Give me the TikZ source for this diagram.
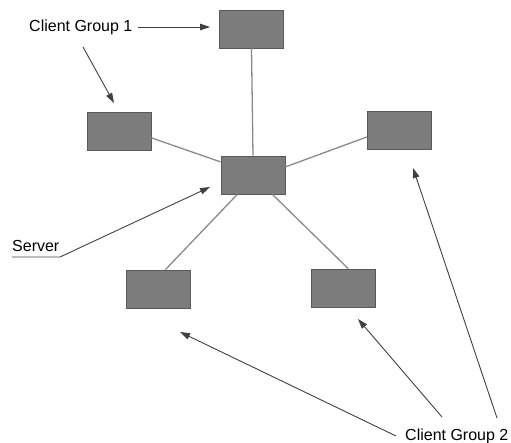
\documentclass[tikz,border=0pt]{standalone}
\usepackage{fontspec}
\setmainfont{Liberation Sans}
\usetikzlibrary{arrows.meta}
\definecolor{boxfill}{HTML}{7C7C7C}
\definecolor{boxedge}{HTML}{5A5A5A}
\definecolor{linkgray}{HTML}{8A8A8A}
\definecolor{pointer}{HTML}{404040}
\begin{document}
\begin{tikzpicture}[x=1pt,y=-1pt,
  host/.style={draw=boxedge,fill=boxfill,line width=0.8pt,minimum width=64pt,minimum height=38pt,inner sep=0pt},
  link/.style={draw=linkgray,line width=1.3pt},
  pointer/.style={draw=pointer,line width=0.9pt,-{Triangle[length=10pt,width=6.5pt]}},
  caption/.style={font=\fontsize{16}{18}\selectfont,text=black,inner sep=0pt,anchor=west}]
\useasboundingbox (0,0) rectangle (511,443);

% hosts
\node[host] (top) at (251.5,29) {};
\node[host] (lft) at (119,131) {};
\node[host] (srv) at (253,175) {};
\node[host] (rgt) at (399.5,130) {};
\node[host] (bl)  at (158,289) {};
\node[host] (br)  at (343,288) {};

% links to the server
\draw[link] (top.south) -- (srv.north);
\draw[link] (lft.-12) -- (srv.158);
\draw[link] (rgt.-168) -- (srv.14);
\draw[link] (srv.231.7) -- (bl.69.8);
\draw[link] (srv.-45) -- (br.75);

% labels
\node[caption] (cg1) at (29,27) {Client Group 1};
\node[caption] (sv) at (12,246) {Server};
\node[caption] (cg2) at (405,436) {Client Group 2};

% pointer ends
\coordinate (p1a) at (83,47);
\coordinate (p1b) at (114,103);
\coordinate (svu) at (60,257);
\coordinate (svt) at (210,187);
\coordinate (q1a) at (396,436);
\coordinate (q1b) at (180,332);
\coordinate (q2a) at (442,417);
\coordinate (q2b) at (358,319);
\coordinate (q3a) at (497,418);
\coordinate (q3b) at (413,168);

% pointers
\draw[pointer,shorten <=5pt,shorten >=9pt] (cg1.east) -- (cg1.east -| top.west);
\draw[pointer] (p1a) -- (p1b);
\draw[pointer] (sv.west |- svu) -- (svu) -- (svt);
\draw[pointer] (q1a) -- (q1b);
\draw[pointer] (q2a) -- (q2b);
\draw[pointer] (q3a) -- (q3b);
\end{tikzpicture}
\end{document}
